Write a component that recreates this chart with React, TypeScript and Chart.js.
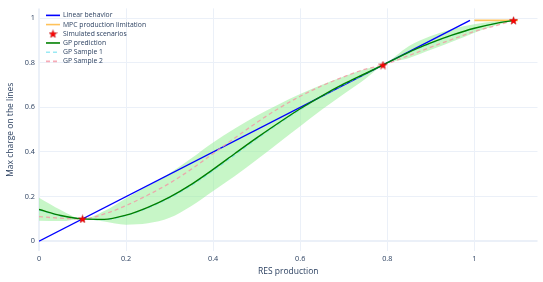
import React, { useEffect, useRef } from "react";
import { Chart, registerables } from "chart.js";

Chart.register(...registerables);

// ---- data ----
const linearX = [0, 0.99];
const linearY = [0, 0.99];
const mpcX = [1.0, 1.1];
const mpcY = [0.99, 0.99];
const scenarioX = [0.1, 0.79, 1.09];
const scenarioY = [0.1, 0.79, 0.99];

const gpX = [0, 0.05, 0.1, 0.15, 0.2, 0.25, 0.3, 0.35, 0.4, 0.45, 0.5, 0.55, 0.6, 0.65, 0.7, 0.75, 0.79, 0.85, 0.9, 0.95, 1.0, 1.05, 1.09];
const gpMean = [0.142, 0.115, 0.1, 0.098, 0.117, 0.152, 0.198, 0.255, 0.322, 0.393, 0.463, 0.53, 0.594, 0.652, 0.705, 0.752, 0.79, 0.848, 0.889, 0.925, 0.955, 0.977, 0.99];
const gpUpper = [0.195, 0.14, 0.1, 0.135, 0.193, 0.248, 0.305, 0.372, 0.443, 0.505, 0.562, 0.613, 0.66, 0.702, 0.738, 0.772, 0.79, 0.875, 0.92, 0.952, 0.973, 0.986, 0.99];
const gpLower = [0.092, 0.09, 0.1, 0.088, 0.074, 0.08, 0.105, 0.158, 0.225, 0.292, 0.365, 0.44, 0.515, 0.59, 0.66, 0.728, 0.79, 0.822, 0.858, 0.895, 0.935, 0.968, 0.99];
const gpSample1 = [0.14, 0.113, 0.1, 0.097, 0.115, 0.149, 0.194, 0.25, 0.316, 0.387, 0.458, 0.526, 0.59, 0.65, 0.703, 0.75, 0.79, 0.846, 0.887, 0.923, 0.954, 0.977, 0.99];
const gpSample2 = [0.11, 0.103, 0.1, 0.122, 0.16, 0.207, 0.26, 0.323, 0.393, 0.463, 0.532, 0.595, 0.65, 0.697, 0.737, 0.772, 0.79, 0.833, 0.87, 0.906, 0.94, 0.967, 0.99];

const xTicks = [0, 0.2, 0.4, 0.6, 0.8, 1];
const yTicks = [0, 0.2, 0.4, 0.6, 0.8, 1];

const FONT = "'Open Sans', Verdana, Arial, sans-serif";
const TEXT = "#2a3f5f";
const GRID = "#EBF0F8";

function pts(xs: number[], ys: number[]) {
  return xs.map((x, i) => ({ x, y: ys[i] }));
}

function makeStar(size: number): HTMLCanvasElement {
  const c = document.createElement("canvas");
  c.width = size;
  c.height = size;
  const g = c.getContext("2d")!;
  const cx = size / 2, cy = size / 2 + 0.4;
  const R = size / 2 - 0.3, r = R * 0.42;
  g.beginPath();
  for (let i = 0; i < 10; i++) {
    const ang = -Math.PI / 2 + (i * Math.PI) / 5;
    const rad = i % 2 === 0 ? R : r;
    const px = cx + rad * Math.cos(ang);
    const py = cy + rad * Math.sin(ang);
    if (i === 0) g.moveTo(px, py);
    else g.lineTo(px, py);
  }
  g.closePath();
  g.fillStyle = "#ff0000";
  g.fill();
  g.strokeStyle = "rgba(160,0,0,0.7)";
  g.lineWidth = 0.6;
  g.stroke();
  return c;
}

const legendPlugin = {
  id: "insideLegend",
  afterDatasetsDraw(chart: any) {
    const ctx = chart.ctx as CanvasRenderingContext2D;
    const items = chart.data.datasets.filter((d: any) => d.legendItem);
    const left = chart.chartArea.left;
    const top = chart.chartArea.top;
    ctx.save();
    ctx.font = `6.8px ${FONT}`;
    ctx.textBaseline = "middle";
    ctx.textAlign = "left";
    const rowH = 9.2;
    items.forEach((d: any, i: number) => {
      const y = top + 7 + i * rowH;
      const lx0 = left + 7, lx1 = left + 21;
      if (d.legendItem === "star") {
        const img = d.pointStyle as HTMLCanvasElement;
        ctx.drawImage(img, (lx0 + lx1) / 2 - img.width / 2, y - img.height / 2);
      } else {
        ctx.beginPath();
        ctx.strokeStyle = d.borderColor;
        ctx.lineWidth = 1.6;
        ctx.setLineDash(d.borderDash || []);
        ctx.moveTo(lx0, y);
        ctx.lineTo(lx1, y);
        ctx.stroke();
        ctx.setLineDash([]);
      }
      ctx.fillStyle = TEXT;
      ctx.fillText(d.label, left + 24, y);
    });
    ctx.restore();
  },
};

export default function App() {
  const ref = useRef<HTMLCanvasElement | null>(null);

  useEffect(() => {
    if (!ref.current) return;
    const star = makeStar(9);
    const chart = new Chart(ref.current, {
      type: "line",
      data: {
        datasets: [
          {
            label: "GP upper",
            data: pts(gpX, gpUpper),
            borderWidth: 0,
            borderColor: "rgba(0,0,0,0)",
            backgroundColor: "rgba(144,238,144,0.5)",
            fill: "+1",
            pointRadius: 0,
            cubicInterpolationMode: "monotone",
            order: 10,
          },
          {
            label: "GP lower",
            data: pts(gpX, gpLower),
            borderWidth: 0,
            borderColor: "rgba(0,0,0,0)",
            fill: false,
            pointRadius: 0,
            cubicInterpolationMode: "monotone",
            order: 11,
          },
          {
            label: "Linear behavior",
            legendItem: "line",
            data: pts(linearX, linearY),
            borderColor: "#0000ff",
            borderWidth: 1.4,
            pointRadius: 0,
            fill: false,
            order: 4,
          },
          {
            label: "MPC production limitation",
            legendItem: "line",
            data: pts(mpcX, mpcY),
            borderColor: "#ffc25a",
            borderWidth: 1.6,
            pointRadius: 0,
            fill: false,
            order: 5,
          },
          {
            label: "Simulated scenarios",
            legendItem: "star",
            data: pts(scenarioX, scenarioY),
            showLine: false,
            pointStyle: star,
            pointRadius: 4.5,
            borderColor: "#ff0000",
            backgroundColor: "#ff0000",
            fill: false,
            order: 0,
          },
          {
            label: "GP prediction",
            legendItem: "line",
            data: pts(gpX, gpMean),
            borderColor: "#008000",
            borderWidth: 1.4,
            pointRadius: 0,
            fill: false,
            cubicInterpolationMode: "monotone",
            order: 1,
          },
          {
            label: "GP Sample 1",
            legendItem: "line",
            data: pts(gpX, gpSample1),
            borderColor: "rgba(120,225,240,0.75)",
            borderDash: [4, 3],
            borderWidth: 1.3,
            pointRadius: 0,
            fill: false,
            cubicInterpolationMode: "monotone",
            order: 3,
          },
          {
            label: "GP Sample 2",
            legendItem: "line",
            data: pts(gpX, gpSample2),
            borderColor: "rgba(245,150,165,0.8)",
            borderDash: [4, 3],
            borderWidth: 1.3,
            pointRadius: 0,
            fill: false,
            cubicInterpolationMode: "monotone",
            order: 2,
          },
        ] as any,
      },
      options: {
        animation: false,
        responsive: false,
        maintainAspectRatio: false,
        layout: { padding: { left: 0, right: 2, top: 3, bottom: 0 } },
        plugins: {
          legend: { display: false },
          tooltip: { enabled: false },
        },
        scales: {
          x: {
            type: "linear",
            min: 0,
            max: 1.145,
            afterBuildTicks: (s: any) => {
              s.ticks = xTicks.map((v) => ({ value: v }));
            },
            afterFit: (s: any) => {
              s.height = 31;
            },
            border: { display: false },
            grid: {
              color: GRID,
              lineWidth: (c: any) => (c.tick && c.tick.value === 0 ? 2 : 1),
              drawTicks: false,
            },
            ticks: {
              padding: 4,
              color: TEXT,
              font: { family: FONT, size: 7.3 },
              maxRotation: 0,
              callback: (v: any) => String(v),
            },
            title: {
              display: true,
              text: "RES production",
              color: TEXT,
              font: { family: FONT, size: 8.5 },
              padding: { top: 0, bottom: 5.5 },
            },
          },
          y: {
            type: "linear",
            min: -0.044,
            max: 1.044,
            afterBuildTicks: (s: any) => {
              s.ticks = yTicks.map((v) => ({ value: v }));
            },
            afterFit: (s: any) => {
              s.width = 39;
            },
            border: { display: false },
            grid: {
              color: GRID,
              lineWidth: (c: any) => (c.tick && c.tick.value === 0 ? 2 : 1),
              drawTicks: false,
            },
            ticks: {
              padding: 4,
              color: TEXT,
              font: { family: FONT, size: 7.3 },
              callback: (v: any) => String(v),
            },
            title: {
              display: true,
              text: "Max charge on the lines",
              color: TEXT,
              font: { family: FONT, size: 8.5 },
              padding: { top: 5.5, bottom: 0 },
            },
          },
        },
      } as any,
      plugins: [legendPlugin],
    });
    return () => chart.destroy();
  }, []);

  return (
    <div style={{ position: "absolute", left: 0, top: 0, width: 543, height: 282, background: "#fff" }}>
      <canvas ref={ref} width={543} height={282} style={{ width: 543, height: 282, display: "block" }} />
    </div>
  );
}
